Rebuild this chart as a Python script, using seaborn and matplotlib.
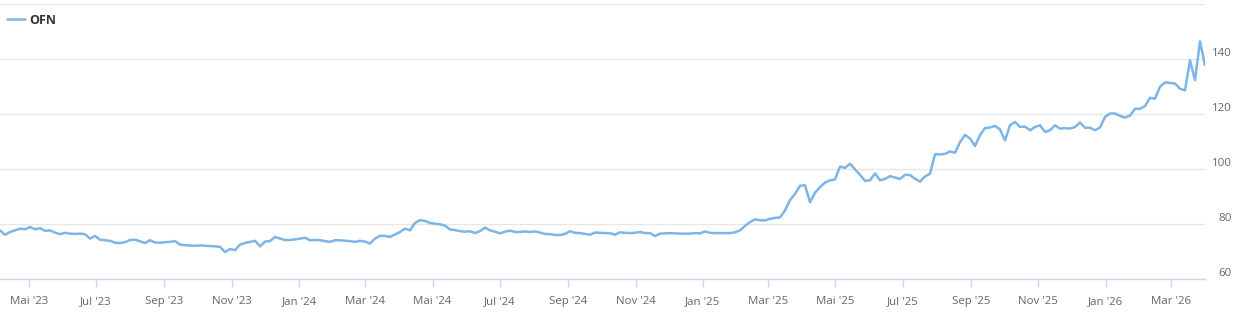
import matplotlib
matplotlib.use("Agg")
import matplotlib.pyplot as plt
import seaborn as sns
import pandas as pd

# ---------------- data ----------------
series_name = "OFN"
start_date = "2023-04-05"
end_date = "2026-04-01"

values = [
    77.8, 76.2, 77.2, 77.8, 78.4, 78.2, 79.0, 78.2, 78.6, 77.6, 77.8, 77.0, 76.4, 76.9, 76.6, 76.5, 76.6, 76.4, 74.8, 75.8,
    74.4, 74.2, 74.0, 73.3, 73.2, 73.5, 74.3, 74.4, 73.8, 73.2, 74.2, 73.4, 73.3, 73.5, 73.6, 73.9, 72.6, 72.4, 72.3, 72.2,
    72.3, 72.2, 72.1, 72.0, 71.8, 69.9, 71.0, 70.6, 72.6, 73.2, 73.6, 74.0, 72.0, 73.7, 73.9, 75.4, 74.8, 74.3, 74.3, 74.5,
    74.8, 75.1, 74.2, 74.3, 74.2, 73.9, 73.6, 74.2, 74.2, 74.0, 73.9, 73.6, 74.0, 73.7, 73.0, 74.8, 75.8, 75.8, 75.4, 76.3,
    77.2, 78.4, 77.8, 80.5, 81.5, 81.2, 80.5, 80.2, 80.0, 79.5, 78.1, 77.9, 77.5, 77.3, 77.5, 76.8, 77.5, 78.8, 77.8, 77.3,
    76.7, 77.3, 77.7, 77.2, 77.2, 77.4, 77.2, 77.4, 77.0, 76.5, 76.4, 76.1, 76.1, 76.5, 77.5, 76.9, 76.8, 76.5, 76.2, 77.0,
    76.9, 76.8, 76.8, 76.2, 77.1, 76.9, 76.8, 76.9, 77.2, 76.8, 76.8, 75.7, 76.6, 76.7, 76.8, 76.7, 76.6, 76.6, 76.6, 76.8,
    76.7, 77.4, 76.9, 76.8, 76.8, 76.8, 76.8, 77.1, 77.8, 79.4, 80.8, 81.8, 81.5, 81.4, 82.0, 82.3, 82.5, 85.0, 88.8, 91.0,
    94.0, 94.2, 88.0, 91.5, 93.5, 95.2, 96.0, 96.3, 101.0, 100.5, 102.0, 100.0, 98.0, 95.8, 96.0, 98.5, 96.0, 96.5, 97.5, 97.0,
    96.5, 98.0, 97.9, 96.6, 95.5, 97.4, 98.4, 105.5, 105.4, 105.6, 106.5, 106.0, 109.9, 112.5, 111.2, 108.5, 112.4, 115.0, 115.2, 115.8,
    114.5, 110.5, 116.0, 117.2, 115.4, 115.5, 114.2, 115.4, 116.0, 113.6, 114.2, 116.0, 114.8, 115.0, 114.8, 115.4, 117.0, 115.1, 115.1, 114.2,
    115.2, 119.0, 120.3, 120.3, 119.4, 118.8, 119.5, 122.0, 122.0, 123.0, 126.0, 125.7, 130.0, 131.6, 131.4, 131.2, 129.3, 128.7, 139.6, 132.4,
    146.5, 137.8,
]

tick_dates = ["2023-05-01", "2023-07-01", "2023-09-01", "2023-11-01", "2024-01-01", "2024-03-01",
              "2024-05-01", "2024-07-01", "2024-09-01", "2024-11-01", "2025-01-01", "2025-03-01",
              "2025-05-01", "2025-07-01", "2025-09-01", "2025-11-01", "2026-01-01", "2026-03-01"]
tick_labels = ["Mai '23", "Jul '23", "Sep '23", "Nov '23", "Jan '24", "Mar '24",
               "Mai '24", "Jul '24", "Sep '24", "Nov '24", "Jan '25", "Mar '25",
               "Mai '25", "Jul '25", "Sep '25", "Nov '25", "Jan '26", "Mar '26"]
y_ticks = [60, 80, 100, 120, 140, 160]
y_labels = ["60", "80", "100", "120", "140", ""]

# ---------------- plot ----------------
dates = pd.date_range(start_date, end_date, periods=len(values))
df = pd.DataFrame({"Datum": dates, series_name: values})

sns.set_style("white")
plt.rcParams["font.family"] = ["Open Sans", "DejaVu Sans"]

W, H = 1252, 319
fig = plt.figure(figsize=(W / 100, H / 100), dpi=100)
top_px, bottom_px, right_px = 4.3, 279.3, 1205
ax = fig.add_axes([0, 1 - bottom_px / H, right_px / W, (bottom_px - top_px) / H])

line_color = "#7cb5e6"
sns.lineplot(data=df, x="Datum", y=series_name, ax=ax, color=line_color,
             linewidth=1.8, label=series_name)
for ln in ax.get_lines():
    ln.set_solid_joinstyle("round")

ax.set_xlim(pd.Timestamp(start_date), pd.Timestamp(end_date))
ax.set_ylim(60, 160)
ax.set_xlabel("")
ax.set_ylabel("")

# grid
ax.set_yticks(y_ticks)
ax.set_yticklabels(y_labels)
ax.yaxis.grid(True, color="#e6e6e6", linewidth=1)
ax.xaxis.grid(False)
ax.set_axisbelow(True)

# spines
for s in ["top", "left", "right"]:
    ax.spines[s].set_visible(False)
ax.spines["bottom"].set_color("#ccd6eb")
ax.spines["bottom"].set_linewidth(1)

# x ticks
ax.set_xticks(pd.to_datetime(tick_dates))
ax.set_xticklabels(tick_labels)
ax.tick_params(axis="x", bottom=True, length=5.8, width=1, color="#ccd6eb",
               labelcolor="#666666", labelsize=8.25, pad=6, direction="out")

# y ticks on right, right aligned, slightly above gridlines
ax.yaxis.tick_right()
ax.tick_params(axis="y", left=False, right=False, length=0, labelleft=False,
               labelright=True, labelcolor="#666666", labelsize=8.25, pad=19)
for lbl in ax.get_yticklabels():
    lbl.set_horizontalalignment("right")
    lbl.set_verticalalignment("bottom")

# legend
leg = ax.legend(loc="center left", bbox_to_anchor=(7 / W, 1 - 20 / H),
                bbox_transform=fig.transFigure, frameon=False, borderpad=0,
                borderaxespad=0, handlelength=1.4, handletextpad=0.4,
                prop={"weight": "bold", "size": 9})
for t in leg.get_texts():
    t.set_color("#333333")

fig.savefig("out.png", dpi=100)
